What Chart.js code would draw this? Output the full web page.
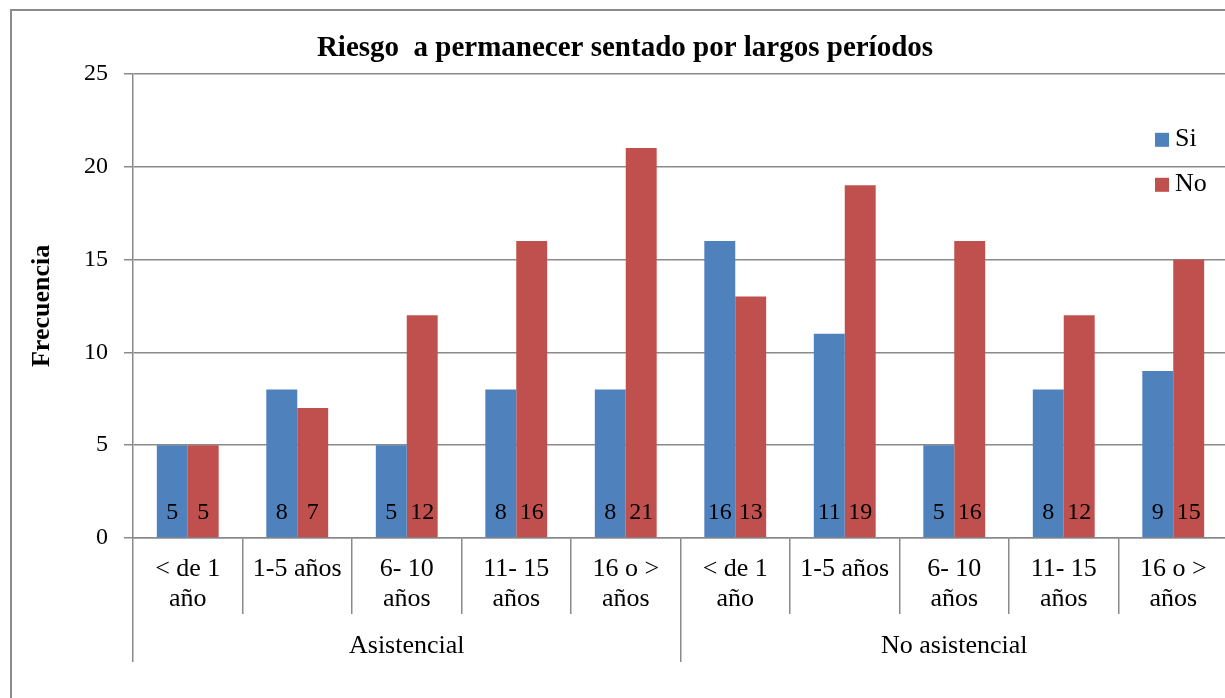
<!DOCTYPE html>
<html>
<head>
<meta charset="utf-8">
<script src="https://cdn.jsdelivr.net/npm/chart.js@4.4.1/dist/chart.umd.min.js"></script>
<style>
  html, body { margin: 0; padding: 0; background: #fff; overflow: hidden; }
  #frame { position: absolute; left: 10px; top: 9px; width: 1400px; height: 900px; border: 2px solid #8c8c8c; }
  #wrap { position: absolute; left: 0; top: 0; width: 1228px; height: 698px; }
</style>
</head>
<body>
<div id="frame"></div>
<div id="wrap"><canvas id="chart"></canvas></div>
<script>
const groups = ['Asistencial', 'No asistencial'];
const periods = [['< de 1', 'año'], ['1-5 años'], ['6- 10', 'años'], ['11- 15', 'años'], ['16 o >', 'años']];
const categories = periods.concat(periods);
const siValues = [5, 8, 5, 8, 8, 16, 11, 5, 8, 9];
const noValues = [5, 7, 12, 16, 21, 13, 19, 16, 12, 15];

const serif = 'Liberation Serif';
const gridColor = '#8a8a8a';

// value labels at the foot of each bar
const barLabels = {
  id: 'barLabels',
  afterDatasetsDraw(chart) {
    const ctx = chart.ctx;
    const base = chart.scales.y.getPixelForValue(0);
    ctx.save();
    ctx.font = '24px "' + serif + '"';
    ctx.fillStyle = '#000';
    ctx.textAlign = 'center';
    ctx.textBaseline = 'middle';
    chart.data.datasets.forEach((ds, i) => {
      chart.getDatasetMeta(i).data.forEach((bar, j) => {
        ctx.fillText(ds.data[j], bar.x, base - 25);
      });
    });
    ctx.restore();
  }
};

// Excel-like legend sitting at the right of the plot
const sideLegend = {
  id: 'sideLegend',
  afterDraw(chart) {
    const ctx = chart.ctx;
    const area = chart.chartArea;
    ctx.save();
    ctx.font = '26px "' + serif + '"';
    ctx.textBaseline = 'middle';
    chart.data.datasets.forEach((ds, i) => {
      const y = area.top + 65 + i * 45;
      ctx.fillStyle = ds.backgroundColor;
      ctx.fillRect(area.right - 73, y - 7 + 1, 14, 14);
      ctx.fillStyle = '#000';
      ctx.fillText(ds.label, area.right - 53, y);
    });
    ctx.restore();
  }
};

new Chart(document.getElementById('chart'), {
  type: 'bar',
  data: {
    labels: categories,
    datasets: [
      { label: 'Si', data: siValues, backgroundColor: '#4f81bd' },
      { label: 'No', data: noValues, backgroundColor: '#c0504d' }
    ]
  },
  options: {
    responsive: true,
    maintainAspectRatio: false,
    animation: false,
    categoryPercentage: 0.565,
    barPercentage: 1,
    layout: { padding: { left: 22, right: 0, top: 0, bottom: 0 } },
    plugins: {
      legend: { display: false },
      tooltip: { enabled: false },
      title: {
        display: true,
        text: 'Riesgo  a permanecer sentado por largos períodos',
        color: '#000',
        font: { family: serif, size: 29, weight: 'bold' },
        padding: { top: 31, bottom: 8 }
      }
    },
    scales: {
      y: {
        min: 0,
        max: 25,
        ticks: { stepSize: 5, color: '#000', padding: 16, font: { family: serif, size: 24 } },
        grid: { color: gridColor, lineWidth: 1.5, tickLength: 9 },
        border: { color: gridColor, width: 1.5 },
        title: {
          display: true,
          text: 'Frecuencia',
          color: '#000',
          font: { family: serif, size: 26, weight: 'bold' },
          padding: { top: 5, bottom: 0 }
        },
        afterFit(scale) { scale.width = 111; }
      },
      x: {
        weight: 0,
        offset: true,
        grid: { offset: true, drawOnChartArea: false, tickLength: 76, color: gridColor, lineWidth: 1.5 },
        border: { color: gridColor, width: 1.5 },
        ticks: {
          color: '#000', padding: -60, maxRotation: 0, autoSkip: false,
          font: { family: serif, size: 26, lineHeight: 1.17 }
        },
        afterFit(scale) { scale.height = 76; }
      },
      x2: {
        type: 'category',
        position: 'bottom',
        weight: 1,
        labels: groups,
        offset: true,
        grid: { offset: true, drawOnChartArea: false, tickLength: 48, color: gridColor, lineWidth: 1.5 },
        border: { display: false },
        ticks: {
          color: '#000', padding: -31, maxRotation: 0, autoSkip: false,
          font: { family: serif, size: 26, lineHeight: 1.17 }
        },
        afterFit(scale) { scale.height = 84; }
      }
    }
  },
  plugins: [barLabels, sideLegend]
});
</script>
</body>
</html>
